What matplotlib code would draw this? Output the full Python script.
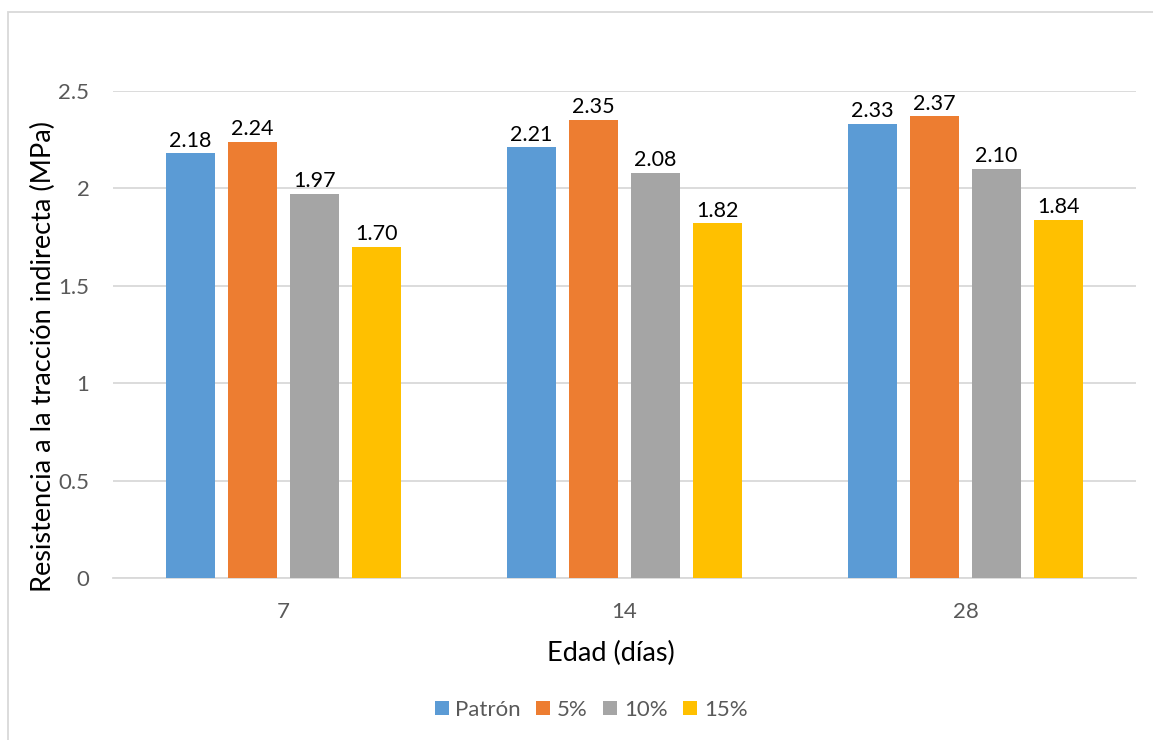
import matplotlib
matplotlib.use('Agg')
import matplotlib.pyplot as plt
import numpy as np
from matplotlib.patches import Rectangle

# tensile strength (MPa) by curing age and replacement level
ages = ['7', '14', '28']
series_names = ['Patrón', '5%', '10%', '15%']
patron = [2.18, 2.21, 2.33]
pct_5 = [2.24, 2.35, 2.37]
pct_10 = [1.97, 2.08, 2.10]
pct_15 = [1.70, 1.82, 1.84]
y_ticks = [0, 0.5, 1, 1.5, 2, 2.5]
y_tick_labels = ['0', '0.5', '1', '1.5', '2', '2.5']

COLORS = ['#5B9BD5', '#ED7D31', '#A5A5A5', '#FFC000']

plt.rcParams['font.family'] = ['Lato', 'DejaVu Sans']

W, H = 1153, 740
fig = plt.figure(figsize=(W / 100, H / 100), dpi=100)
ax = fig.add_axes([113 / W, 1 - 578 / H, 1023 / W, 487 / H])

# chart area outline
fig.patches.append(Rectangle((8 / W, -0.1), 1.2, 1 - 12 / H + 0.1,
                             transform=fig.transFigure, fill=False,
                             edgecolor='#d9d9d9', linewidth=1.3))

x = np.arange(len(ages))
width = 0.144
step = 0.182
all_series = [patron, pct_5, pct_10, pct_15]
for i, (name, vals) in enumerate(zip(series_names, all_series)):
    pos = x + (i - 1.5) * step
    bars = ax.bar(pos, vals, width, color=COLORS[i], label=name, zorder=3)
    for b, v in zip(bars, vals):
        ax.annotate(f'{v:.2f}', (b.get_x() + b.get_width() / 2, v),
                    xytext=(0, 2), textcoords='offset points',
                    ha='center', va='bottom', fontsize=15.5, color='black')

ax.set_xlim(-0.5, 2.5)
ax.set_ylim(0, 2.5)
ax.set_yticks(y_ticks)
ax.set_yticklabels(y_tick_labels)
ax.set_xticks(x)
ax.set_xticklabels(ages)
ax.tick_params(axis='both', length=0, labelsize=16, colors='#595959')
ax.tick_params(axis='y', pad=17)
ax.tick_params(axis='x', pad=17)

ax.grid(axis='y', color='#d9d9d9', linewidth=1.3, zorder=0)
for side in ['top', 'right', 'left']:
    ax.spines[side].set_visible(False)
ax.spines['bottom'].set_color('#d9d9d9')
ax.spines['bottom'].set_linewidth(1.3)

ax.set_xlabel('Edad (días)', fontsize=19.5, color='black', va='center')
ax.xaxis.set_label_coords((611 - 113) / 1023, (578 - 653) / 487)
ax.set_ylabel('Resistencia a la tracción indirecta (MPa)', fontsize=19.5,
              color='black', va='center')
ax.yaxis.set_label_coords((43 - 113) / 1023, (578 - 357) / 487)

leg = fig.legend(loc='center', bbox_to_anchor=(591 / W, 1 - 710 / H),
                 ncol=4, frameon=False, fontsize=16, handlelength=0.63,
                 handleheight=0.63, handletextpad=0.3, columnspacing=0.7)
for t in leg.get_texts():
    t.set_color('#595959')

fig.savefig('out.png', dpi=100, facecolor='white')
